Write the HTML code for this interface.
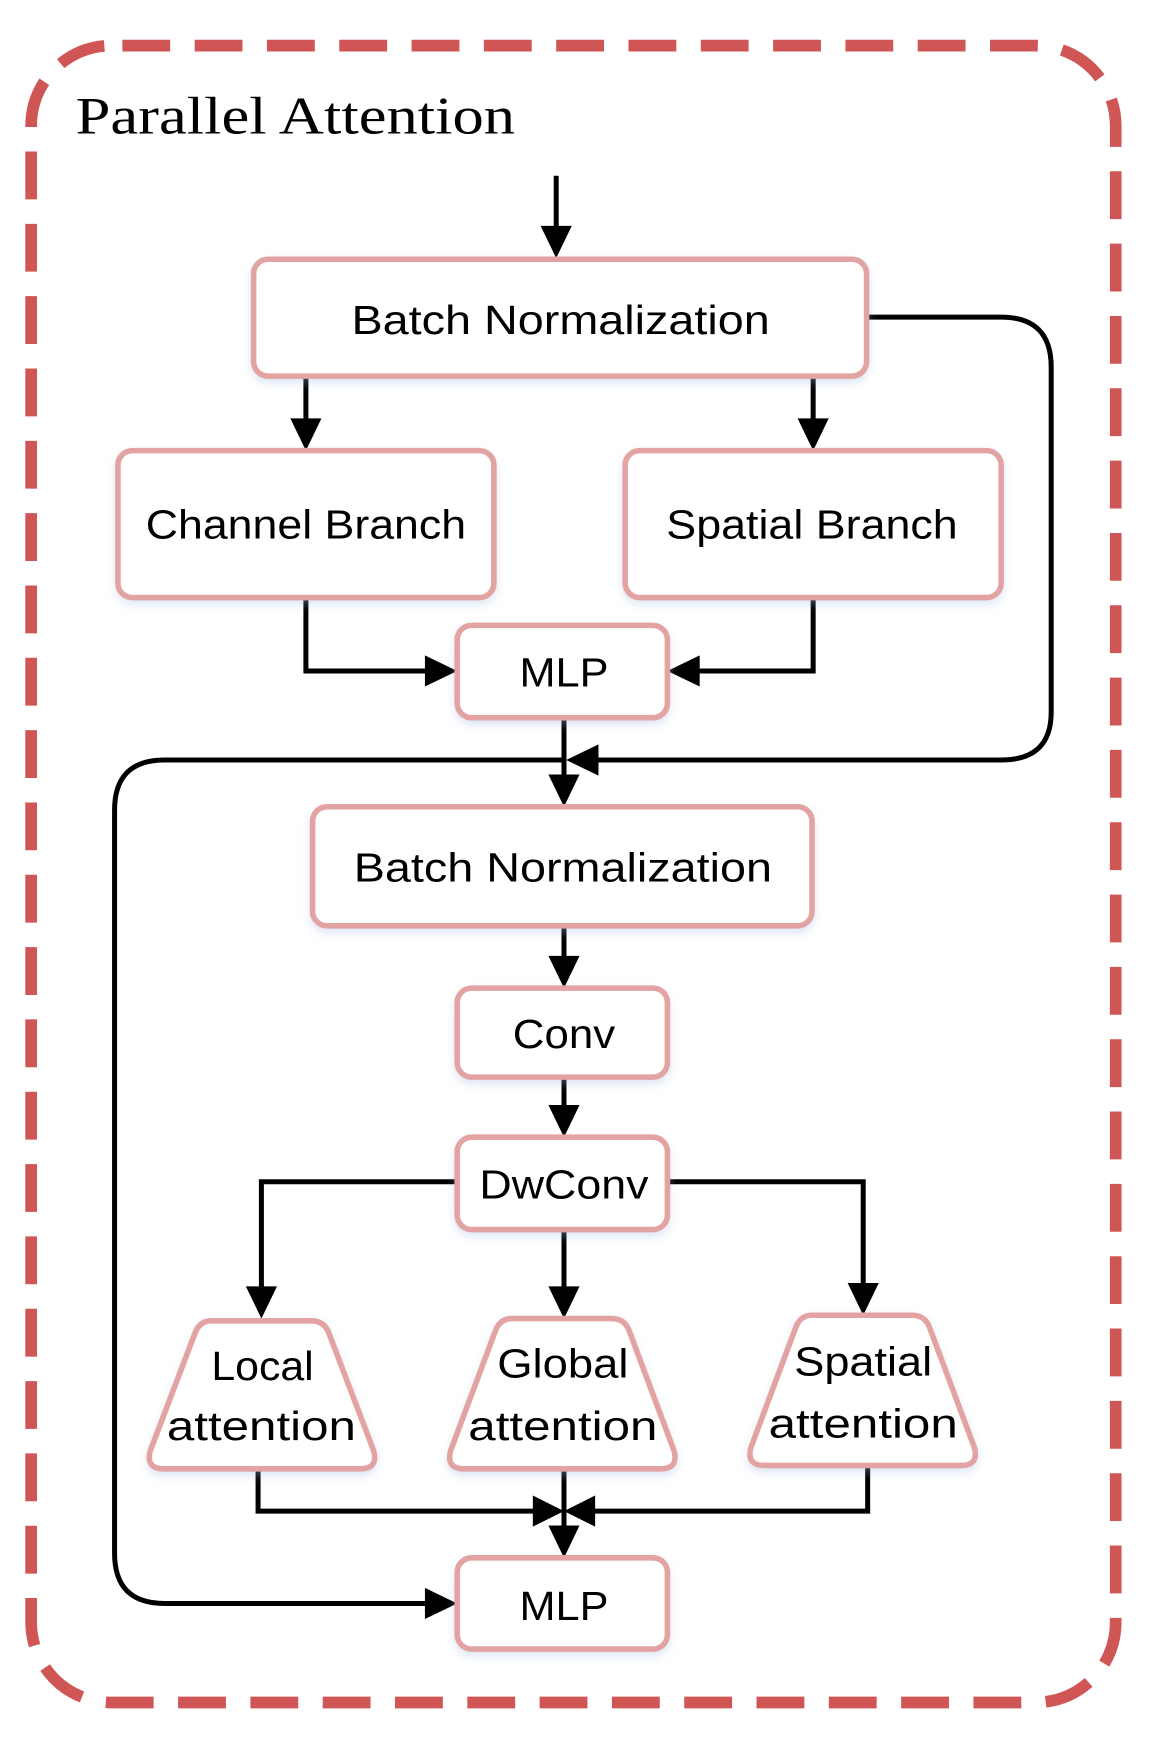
<!DOCTYPE html>
<html><head><meta charset="utf-8"><style>
html,body{margin:0;padding:0;background:#fff;}
svg{display:block;}
.b{fill:#fff;stroke:#e3a3a3;stroke-width:5;}
.t{font-family:"Liberation Sans",sans-serif;font-size:37px;fill:#000;text-anchor:middle;}
.l{stroke:#000;stroke-width:4.5;fill:none;}
.a{fill:#000;}
</style></head><body>
<svg width="1168" height="1757" viewBox="0 0 1050 1579" preserveAspectRatio="none" xmlns="http://www.w3.org/2000/svg">
<defs>
<filter id="sh" x="-10%" y="-10%" width="120%" height="130%"><feDropShadow dx="0" dy="4" stdDeviation="4" flood-color="#9fb8e0" flood-opacity="0.35"/></filter>
</defs>
<rect x="28" y="41" width="975" height="1489" rx="72" fill="none" stroke="#d05656" stroke-width="10.5" stroke-dasharray="43 22" stroke-dashoffset="-10"/>
<text x="68" y="120" font-family="'Liberation Serif',serif" font-size="48" textLength="395" lengthAdjust="spacingAndGlyphs">Parallel Attention</text>

<!-- connectors -->
<path class="l" d="M500 158 V208"/>
<polygon class="a" points="486,203 514,203 500,232"/>
<path class="l" d="M779 285 H900 Q945 285 945 330 V640 Q945 683 900 683 H530"/>
<polygon class="a" points="538,669 538,697 509,683"/>
<path class="l" d="M507 683 H148 Q103 683 103 728 V1396 Q103 1441 148 1441 H388"/>
<polygon class="a" points="382,1427 382,1455 411,1441"/>
<path class="l" d="M275 338 V381"/><polygon class="a" points="261,376 289,376 275,405"/>
<path class="l" d="M731 338 V381"/><polygon class="a" points="717,376 745,376 731,405"/>
<path class="l" d="M275 537 V603 H388"/><polygon class="a" points="382,589 382,617 411,603"/>
<path class="l" d="M731 537 V603 H623"/><polygon class="a" points="629,589 629,617 600,603"/>
<path class="l" d="M507 645 V701"/><polygon class="a" points="493,696 521,696 507,725"/>
<path class="l" d="M507 832 V864"/><polygon class="a" points="493,859 521,859 507,888"/>
<path class="l" d="M507 968 V998"/><polygon class="a" points="493,993 521,993 507,1022"/>
<path class="l" d="M411 1062 H235 V1161"/><polygon class="a" points="221,1156 249,1156 235,1185"/>
<path class="l" d="M507 1105 V1161"/><polygon class="a" points="493,1156 521,1156 507,1185"/>
<path class="l" d="M600 1062 H776 V1158"/><polygon class="a" points="762,1153 790,1153 776,1182"/>
<path class="l" d="M232 1320 V1358 H485"/><polygon class="a" points="479,1344 479,1372 507,1358"/>
<path class="l" d="M780 1317 V1358 H529"/><polygon class="a" points="535,1344 535,1372 507,1358"/>
<path class="l" d="M507 1320 V1376"/><polygon class="a" points="493,1371 521,1371 507,1400"/>

<!-- boxes -->
<g filter="url(#sh)">
<rect class="b" x="228" y="233" width="551" height="105" rx="13"/>
<rect class="b" x="106" y="405" width="338" height="132" rx="13"/>
<rect class="b" x="562" y="405" width="338" height="132" rx="13"/>
<rect class="b" x="411" y="562" width="189" height="83" rx="13"/>
<rect class="b" x="281" y="725" width="449" height="107" rx="13"/>
<rect class="b" x="411" y="888" width="189" height="80" rx="13"/>
<rect class="b" x="411" y="1022" width="189" height="83" rx="13"/>
<rect class="b" x="411" y="1400" width="189" height="82" rx="13"/>
<path class="b" d="M190 1187 H280 Q292 1187 296 1199 L336 1304 Q340 1320 324 1320 H147 Q131 1320 135 1304 L175 1199 Q179 1187 190 1187 Z"/>
<path class="b" d="M460 1185 H550 Q562 1185 566 1197 L606 1304 Q610 1320 594 1320 H417 Q401 1320 405 1304 L445 1197 Q449 1185 460 1185 Z"/>
<path class="b" d="M730 1182 H820 Q832 1182 836 1194 L876 1301 Q880 1317 864 1317 H687 Q671 1317 675 1301 L715 1194 Q719 1182 730 1182 Z"/>
</g>

<text class="t" x="504" y="300" textLength="376" lengthAdjust="spacingAndGlyphs">Batch Normalization</text>
<text class="t" x="275" y="484" textLength="288" lengthAdjust="spacingAndGlyphs">Channel Branch</text>
<text class="t" x="730" y="484" textLength="262" lengthAdjust="spacingAndGlyphs">Spatial Branch</text>
<text class="t" x="507" y="617" textLength="80" lengthAdjust="spacingAndGlyphs">MLP</text>
<text class="t" x="506" y="792" textLength="376" lengthAdjust="spacingAndGlyphs">Batch Normalization</text>
<text class="t" x="507" y="942" textLength="92" lengthAdjust="spacingAndGlyphs">Conv</text>
<text class="t" x="507" y="1077" textLength="152" lengthAdjust="spacingAndGlyphs">DwConv</text>
<text class="t" x="507" y="1456" textLength="80" lengthAdjust="spacingAndGlyphs">MLP</text>
<text class="t" x="236" y="1240" textLength="92" lengthAdjust="spacingAndGlyphs">Local</text>
<text class="t" x="235" y="1294" textLength="170" lengthAdjust="spacingAndGlyphs">attention</text>
<text class="t" x="506" y="1238" textLength="118" lengthAdjust="spacingAndGlyphs">Global</text>
<text class="t" x="506" y="1294" textLength="170" lengthAdjust="spacingAndGlyphs">attention</text>
<text class="t" x="776" y="1236" textLength="124" lengthAdjust="spacingAndGlyphs">Spatial</text>
<text class="t" x="776" y="1292" textLength="170" lengthAdjust="spacingAndGlyphs">attention</text>
</svg>
</body></html>
